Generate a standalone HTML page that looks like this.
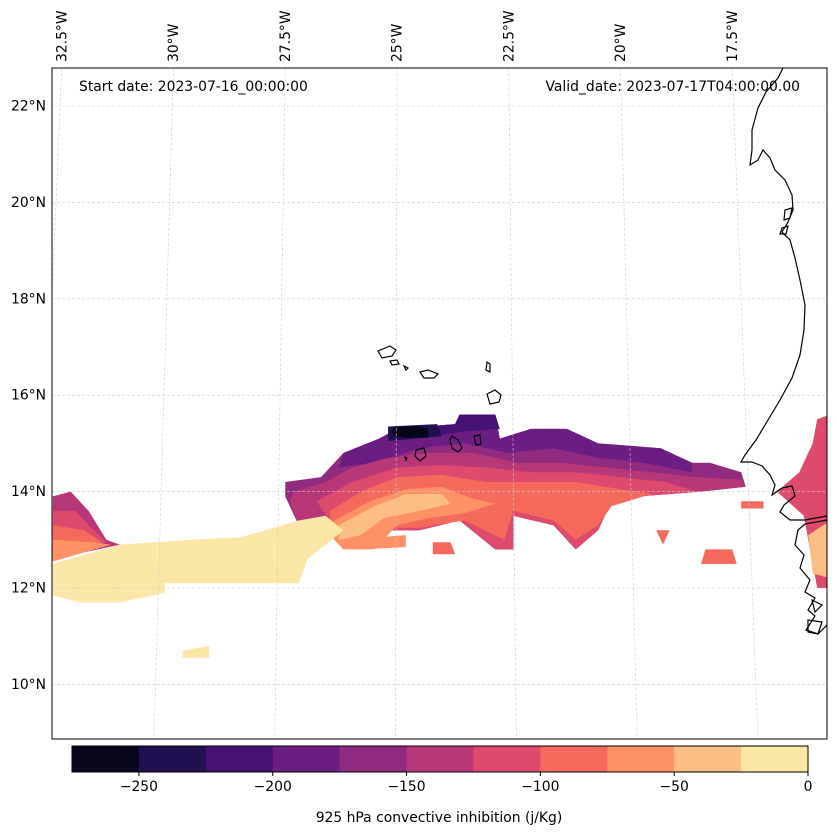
<!DOCTYPE html>
<html><head><meta charset="utf-8"><style>
body{margin:0;background:#fff;}
svg{display:block;font-family:"DejaVu Sans","Liberation Sans",sans-serif;}
</style></head><body>
<svg id="c" width="837" height="836" viewBox="0 0 837 836">
<defs><clipPath id="mc"><rect x="52" y="68" width="775" height="671"/></clipPath></defs>
<rect x="0" y="0" width="837" height="836" fill="#fff"/>
<g id="fill" clip-path="url(#mc)"></g>
<g id="grid" clip-path="url(#mc)"></g>
<g clip-path="url(#mc)" fill="none" stroke="#000" stroke-width="1.2">
<path d="M783,68 L778,78 L766,92 L758,108 L752,130 L752,150 L750,165 L758,160 L763,150 L770,158 L775,170 L785,180 L792,195 L793,210 L788,222 L782,232 L790,240 L795,258 L800,280 L805,305 L804,330 L800,355 L792,378 L780,400 L768,420 L756,440 L745,455 L741,462 L752,462 L762,466 L770,475 L775,485 L772,495 L782,488 L792,486 L795,496 L784,505 L780,512 L790,520 L805,520 L827,516 M827,520 L805,524 L798,530 L795,545 L804,555 L800,568 L810,580 L805,592 L815,598 L808,610 L815,616 L806,630 L818,634 L827,625"/>
<path d="M378,351 L390,346 L396,350 L392,356 L382,358 Z M390,361 L397,360 L399,364 L392,365 Z M404,366 L408,368 L406,370 Z M420,372 L428,370 L438,374 L434,378 L424,378 Z M487,362 L490,364 L490,372 L486,370 Z M487,394 L495,390 L501,395 L499,402 L490,404 Z M452,436 L458,440 L462,448 L458,452 L452,448 L450,440 Z M474,436 L480,435 L481,444 L476,445 Z M416,450 L424,448 L426,456 L420,461 L415,456 Z M405,457 L407,458 L406,460 Z M785,210 L792,208 L790,218 L784,220 Z M782,228 L788,226 L786,234 L780,234 Z M808,620 L822,622 L818,634 L808,632 Z M812,600 L822,605 L815,612 Z"/>
</g>
<rect x="52" y="68" width="775" height="671" fill="none" stroke="#000" stroke-width="1"/>
<text x="79" y="91" font-size="13.9">Start date: 2023-07-16_00:00:00</text>
<text x="800" y="91" font-size="13.9" text-anchor="end">Valid_date: 2023-07-17T04:00:00.00</text>
<g id="latlab" font-size="13.9" text-anchor="end"></g>
<g id="lonlab" font-size="13.9"></g>
<g id="cbar"></g>
<text x="439" y="822" font-size="13.9" text-anchor="middle">925 hPa convective inhibition (j/Kg)</text>
</svg>
<script>
const levels=[-275,-250,-225,-200,-175,-150,-125,-100,-75,-50,-25,0];
const colors=["#07061c","#221150","#481175","#6c1d81","#912b80","#b73779","#dd4a6b","#f56a5c","#fe9266","#fdbe85","#fde7a8"];
const cbTicks=[-250,-200,-150,-100,-50,0];
const latTicks=[22,20,18,16,14,12,10];
const lonTicks=[-32.5,-30,-27.5,-25,-22.5,-20,-17.5];
// contour regions: CIN value (lower bound of bin) and lon/lat outline
const regionValues=[-175,-200,-225,-250,-275,-150,-125,-100,-75,-50,-25,-150,-125,-100,-75,-25,-100,-100,-100,-100,-75,-125,-50];
const regionShapes=[
[[-27.5,14.2],[-26.7,14.3],[-26.2,14.8],[-25.4,15.1],[-25.0,15.3],[-23.7,15.4],[-23.6,15.6],[-22.8,15.6],[-22.7,15.1],[-22.0,15.3],[-21.2,15.3],[-20.5,15.0],[-19.1,14.9],[-18.4,14.6],[-18.0,14.6],[-17.3,14.4],[-17.2,14.1],[-18.2,14.0],[-19.6,13.9],[-20.2,13.8],[-20.5,13.2],[-21.0,12.8],[-21.5,13.3],[-22.4,13.5],[-22.4,12.8],[-22.8,12.8],[-23.6,13.4],[-24.5,13.2],[-25.4,13.2],[-26.2,13.0],[-26.5,13.4],[-27.2,13.3],[-27.5,13.9]],
[[-26.2,14.8],[-25.4,15.1],[-25.0,15.3],[-23.7,15.4],[-23.6,15.6],[-22.8,15.6],[-22.7,15.1],[-22.0,15.3],[-21.2,15.3],[-20.5,15.0],[-19.1,14.9],[-18.4,14.6],[-18.4,14.4],[-19.5,14.6],[-20.5,14.7],[-21.5,14.9],[-22.5,14.8],[-23.5,15.0],[-24.5,14.9],[-25.5,14.6],[-26.3,14.5]],
[[-25.2,15.2],[-25.0,15.3],[-23.7,15.4],[-23.6,15.6],[-22.8,15.6],[-22.7,15.3],[-23.5,15.25],[-24.5,15.1]],
[[-25.2,15.35],[-24.1,15.4],[-24.0,15.15],[-25.2,15.05]],
[[-25.1,15.32],[-24.6,15.37],[-24.3,15.3],[-24.3,15.12],[-24.8,15.12],[-25.1,15.17]],
[[-27.3,14.0],[-26.6,14.2],[-26.0,14.5],[-25.2,14.7],[-24.3,14.8],[-23.3,14.8],[-22.3,14.6],[-21.3,14.6],[-20.3,14.5],[-19.3,14.4],[-18.3,14.3],[-17.3,14.25],[-17.2,14.1],[-18.2,14.0],[-19.6,13.9],[-20.2,13.8],[-20.5,13.2],[-21.0,12.8],[-21.5,13.3],[-22.4,13.5],[-22.4,12.8],[-22.8,12.8],[-23.6,13.4],[-24.5,13.2],[-25.4,13.2],[-26.2,13.0],[-26.5,13.4],[-27.2,13.3],[-27.4,13.8]],
[[-26.8,13.8],[-26.0,14.2],[-25.0,14.5],[-24.0,14.55],[-23.0,14.5],[-22.0,14.4],[-21.0,14.4],[-20.0,14.3],[-19.0,14.2],[-18.3,14.0],[-19.6,13.9],[-20.2,13.8],[-20.5,13.2],[-21.0,12.8],[-21.5,13.3],[-22.4,13.5],[-22.4,12.8],[-22.8,12.8],[-23.6,13.4],[-24.5,13.2],[-25.4,13.2],[-26.2,13.0],[-26.5,13.4]],
[[-26.5,13.6],[-25.8,14.0],[-25.0,14.3],[-24.0,14.35],[-23.0,14.2],[-22.0,14.2],[-21.0,14.2],[-20.0,14.05],[-19.3,13.95],[-20.2,13.7],[-20.5,13.3],[-21.0,13.0],[-21.5,13.4],[-22.4,13.6],[-22.6,13.0],[-23.5,13.4],[-24.5,13.25],[-25.4,13.25],[-26.2,13.05],[-26.5,13.4]],
[[-26.4,13.4],[-25.6,13.8],[-24.8,14.05],[-24.0,14.1],[-23.3,13.85],[-22.8,13.75],[-23.5,13.55],[-24.3,13.45],[-25.0,13.3],[-25.5,12.8],[-26.2,12.8],[-26.5,13.1]],
[[-26.3,13.3],[-25.5,13.7],[-24.8,13.95],[-24.0,13.95],[-23.8,13.75],[-24.5,13.6],[-25.3,13.45],[-25.8,13.1],[-26.3,13.0]],
[[-32.7,12.5],[-31.2,12.9],[-29.6,13.0],[-28.5,13.05],[-27.2,13.4],[-26.6,13.5],[-26.2,13.2],[-27.0,12.6],[-27.2,12.1],[-30.2,12.1],[-30.2,11.9],[-31.2,11.7],[-32.1,11.7],[-32.7,11.85]],
[[-32.7,13.9],[-32.3,14.0],[-31.9,13.6],[-31.5,13.0],[-31.2,12.9],[-32.7,12.6]],
[[-32.7,13.6],[-32.2,13.6],[-31.9,13.3],[-31.5,12.95],[-32.7,12.6]],
[[-32.7,13.3],[-32.0,13.2],[-31.6,12.95],[-32.7,12.6]],
[[-32.7,13.0],[-31.8,12.95],[-31.4,12.9],[-32.7,12.55]],
[[-29.8,10.7],[-29.2,10.8],[-29.2,10.55],[-29.8,10.55]],
[[-24.2,12.95],[-23.8,12.95],[-23.7,12.7],[-24.2,12.7]],
[[-19.2,13.2],[-18.9,13.2],[-19.05,12.9]],
[[-18.1,12.8],[-17.5,12.8],[-17.4,12.5],[-18.2,12.5]],
[[-17.3,13.8],[-16.8,13.8],[-16.8,13.65],[-17.3,13.65]],
[[-26.0,13.0],[-24.8,13.1],[-24.8,12.85],[-25.8,12.8]],
[[-15.6,15.5],[-15.3,15.6],[-15.3,12.0],[-15.6,12.0],[-15.9,13.5],[-16.5,14.0],[-16.0,14.4],[-15.7,15.0]],
[[-15.3,13.4],[-15.8,13.1],[-15.7,12.3],[-15.3,12.2]]
];
const NS="http://www.w3.org/2000/svg";
function px(lon){return 397+(lon+25)*44.7;}
function py(lat){return 106+(22-lat)*48.2;}
function gx(lon,y){return 397+(lon+25)*44.7+(lon+24.6)*(y-68)*0.0054;}
function cidx(v){for(let i=0;i<levels.length-1;i++){if(v>=levels[i]&&v<levels[i+1])return i;}return colors.length-1;}
const fill=document.getElementById('fill');
regionShapes.forEach((s,i)=>{
  const p=document.createElementNS(NS,'polygon');
  p.setAttribute('points',s.map(q=>px(q[0]).toFixed(1)+','+py(q[1]).toFixed(1)).join(' '));
  p.setAttribute('fill',colors[cidx(regionValues[i])]);
  
  
  fill.appendChild(p);
});
const grid=document.getElementById('grid');
latTicks.forEach(l=>{
  const ln=document.createElementNS(NS,'line');
  ln.setAttribute('x1',52);ln.setAttribute('x2',827);
  ln.setAttribute('y1',py(l));ln.setAttribute('y2',py(l));
  ln.setAttribute('stroke','#ccc');ln.setAttribute('stroke-width','0.6');ln.setAttribute('stroke-dasharray','3,2');
  
  
  grid.appendChild(ln);
  const t=document.createElementNS(NS,'text');
  t.setAttribute('x',46);t.setAttribute('y',py(l)+4.5);t.textContent=l+'°N';
  
  
  document.getElementById('latlab').appendChild(t);
});
lonTicks.forEach(l=>{
  const ln=document.createElementNS(NS,'line');
  ln.setAttribute('x1',gx(l,68));ln.setAttribute('y1',68);
  ln.setAttribute('x2',gx(l,739));ln.setAttribute('y2',739);
  ln.setAttribute('stroke','#ccc');ln.setAttribute('stroke-width','0.6');ln.setAttribute('stroke-dasharray','3,2');
  
  
  grid.appendChild(ln);
  const x=Math.max(gx(l,68),60);
  const t=document.createElementNS(NS,'text');
  t.setAttribute('transform','translate('+(x+4.5)+',62) rotate(-90)');
  t.textContent=Math.abs(l)+'°W';
  
  
  document.getElementById('lonlab').appendChild(t);
});
const cb=document.getElementById('cbar');
const cx0=72,cx1=808,cy=746,ch=26;
function cbx(v){return cx0+(v-levels[0])/(levels[levels.length-1]-levels[0])*(cx1-cx0);}
for(let i=0;i<colors.length;i++){
  const r=document.createElementNS(NS,'rect');
  r.setAttribute('x',cbx(levels[i]));r.setAttribute('y',cy);
  r.setAttribute('width',cbx(levels[i+1])-cbx(levels[i])+0.5);r.setAttribute('height',ch);
  r.setAttribute('fill',colors[i]);
  
  
  cb.appendChild(r);
}
const fr=document.createElementNS(NS,'rect');
fr.setAttribute('x',cx0);fr.setAttribute('y',cy);fr.setAttribute('width',cx1-cx0);fr.setAttribute('height',ch);
fr.setAttribute('fill','none');fr.setAttribute('stroke','#000');fr.setAttribute('stroke-width','1');


cb.appendChild(fr);
cbTicks.forEach(v=>{
  const ln=document.createElementNS(NS,'line');
  ln.setAttribute('x1',cbx(v));ln.setAttribute('x2',cbx(v));ln.setAttribute('y1',cy+ch);ln.setAttribute('y2',cy+ch+4);
  ln.setAttribute('stroke','#000');
  
  
  cb.appendChild(ln);
  const t=document.createElementNS(NS,'text');
  t.setAttribute('x',cbx(v));t.setAttribute('y',cy+ch+19);t.setAttribute('font-size','13.9');t.setAttribute('text-anchor','middle');
  t.textContent=v<0?'\u2212'+Math.abs(v):String(v);
  
  
  cb.appendChild(t);
});
</script>
</body></html>
